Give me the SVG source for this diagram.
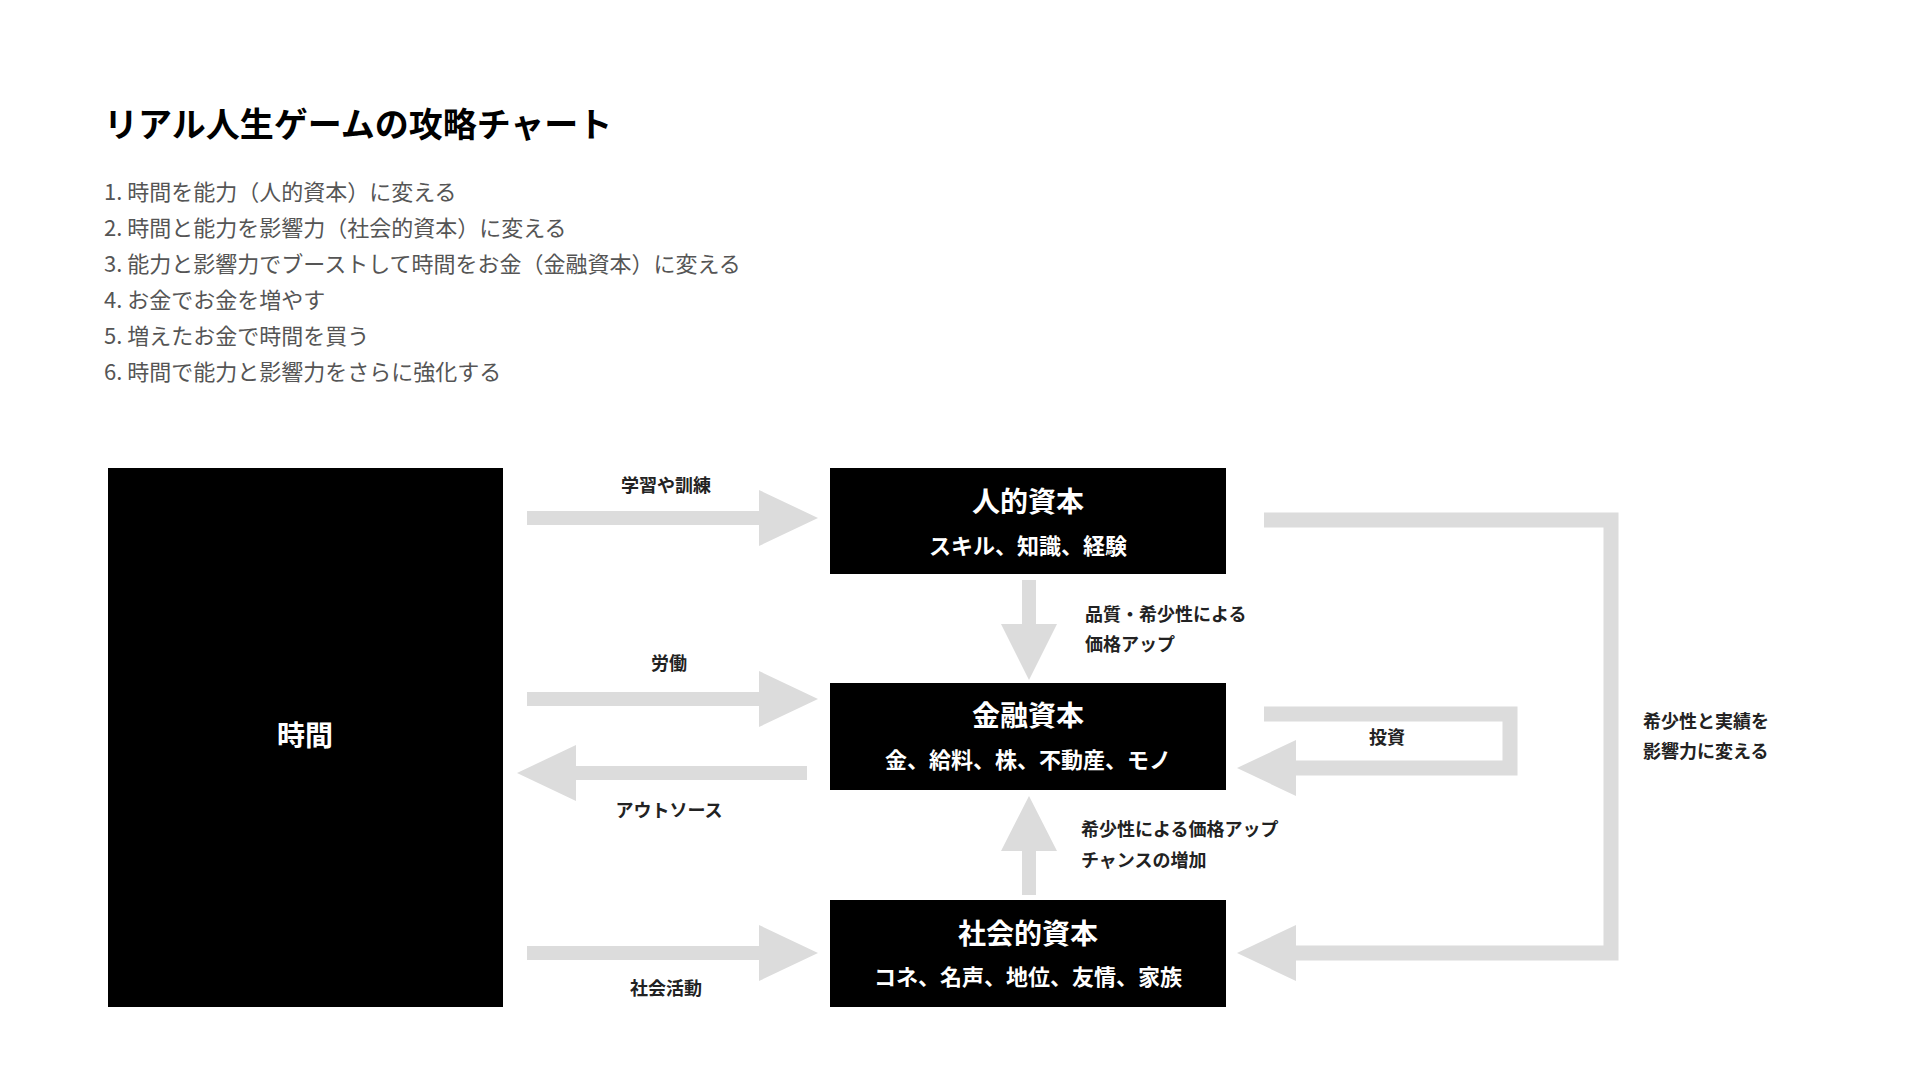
<svg xmlns="http://www.w3.org/2000/svg" width="1920" height="1080" viewBox="0 0 1920 1080">
<style>
text{font-family:"Noto Sans CJK JP","Noto Sans",sans-serif}
.title{font-size:34px;font-weight:700;fill:#000}
.list{font-size:22px;fill:#555}
.box{fill:#000}
.bt{font-size:28px;font-weight:700;fill:#fff;text-anchor:middle}
.bs{font-size:22px;font-weight:700;fill:#fff;text-anchor:middle}
.lbl{font-size:18px;font-weight:700;fill:#222}
.c{text-anchor:middle}
.ar{fill:#dcdcdc}
.ln{fill:none;stroke:#dcdcdc;stroke-width:15}
</style>
<rect width="1920" height="1080" fill="#fff"/>
<text class="title" x="104" y="137">リアル人生ゲームの攻略チャート</text>
<g class="list">
<text class="list" x="104" y="200">1. 時間を能力（人的資本）に変える</text>
<text class="list" x="104" y="236">2. 時間と能力を影響力（社会的資本）に変える</text>
<text class="list" x="104" y="272">3. 能力と影響力でブーストして時間をお金（金融資本）に変える</text>
<text class="list" x="104" y="308">4. お金でお金を増やす</text>
<text class="list" x="104" y="344">5. 増えたお金で時間を買う</text>
<text class="list" x="104" y="380">6. 時間で能力と影響力をさらに強化する</text>
</g>
<g id="time"><rect class="box" x="108" y="468" width="395" height="539"/><text class="bt" x="305" y="746">時間</text></g>
<g id="human"><rect class="box" x="830" y="468" width="396" height="106"/><text class="bt" x="1028" y="512">人的資本</text><text class="bs" x="1028" y="554">スキル、知識、経験</text></g>
<g id="financial"><rect class="box" x="830" y="683" width="396" height="107"/><text class="bt" x="1028" y="726">金融資本</text><text class="bs" x="1028" y="768">金、給料、株、不動産、モノ</text></g>
<g id="social"><rect class="box" x="830" y="900" width="396" height="107"/><text class="bt" x="1028" y="944">社会的資本</text><text class="bs" x="1028" y="985">コネ、名声、地位、友情、家族</text></g>
<g id="connectors">
<path class="ar" d="M527 511H759V490L818 518L759 546V525H527Z"/>
<path class="ar" d="M527 692H759V671L818 699L759 727V706H527Z"/>
<path class="ar" d="M807 766H576V745L517 773L576 801V780H807Z"/>
<path class="ar" d="M527 946H759V925L818 953L759 981V960H527Z"/>
<path class="ar" d="M1022 580V624H1001L1029 680L1057 624H1036V580Z"/>
<path class="ar" d="M1022 895V851H1001L1029 796L1057 851H1036V895Z"/>
<path class="ln" d="M1264 714H1510V768H1296"/>
<path class="ar" d="M1296 740L1237 768L1296 796Z"/>
<path class="ln" d="M1264 520H1611V953H1296"/>
<path class="ar" d="M1296 925L1237 953L1296 981Z"/>
</g>
<g id="labels">
<text class="lbl c" x="666" y="492">学習や訓練</text>
<text class="lbl c" x="669" y="670">労働</text>
<text class="lbl c" x="669" y="817">アウトソース</text>
<text class="lbl c" x="666" y="995">社会活動</text>
<text class="lbl" x="1085" y="621">品質・希少性による</text>
<text class="lbl" x="1085" y="651">価格アップ</text>
<text class="lbl" x="1081" y="836">希少性による価格アップ</text>
<text class="lbl" x="1081" y="867">チャンスの増加</text>
<text class="lbl c" x="1387" y="744">投資</text>
<text class="lbl" x="1643" y="728">希少性と実績を</text>
<text class="lbl" x="1643" y="758">影響力に変える</text>
</g>
</svg>
